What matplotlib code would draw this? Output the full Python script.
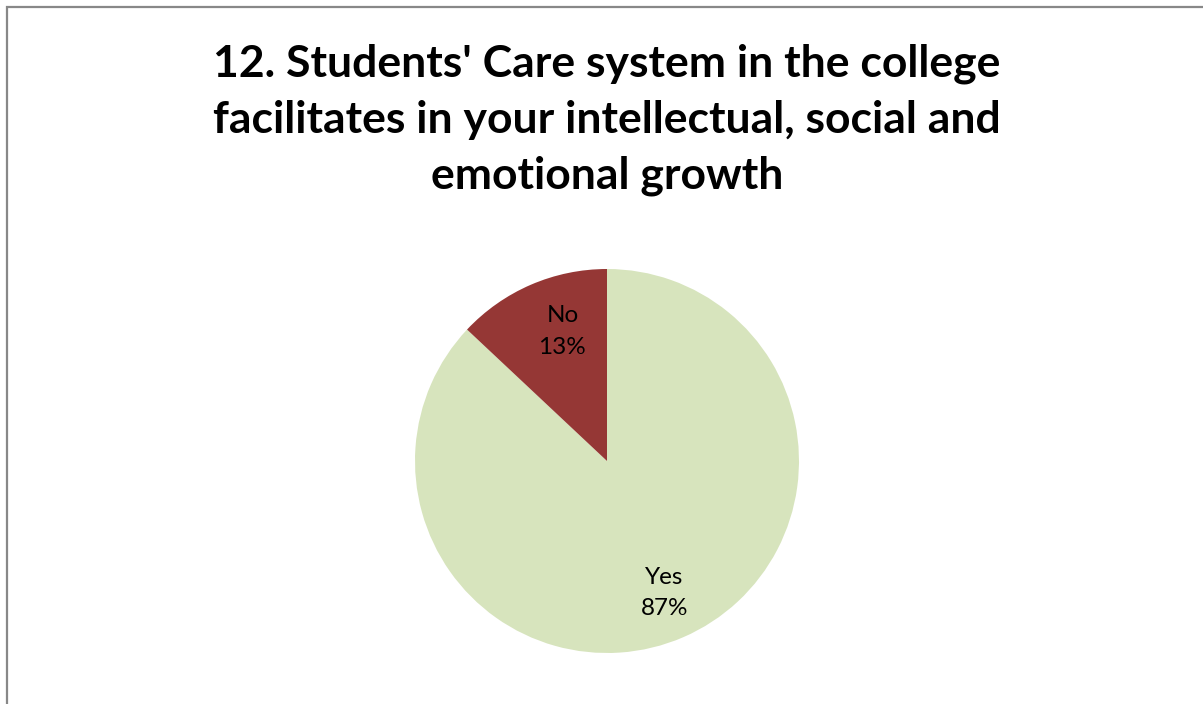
import matplotlib.pyplot as plt
from matplotlib.patches import Rectangle

categories = ["Yes", "No"]
percents = [87, 13]
colors = ["#d7e4bd", "#953735"]
title = "12. Students' Care system in the college\nfacilitates in your intellectual, social and\nemotional growth"

plt.rcParams['font.family'] = ['Lato', 'DejaVu Sans']

W, H = 1203, 704
fig = plt.figure(figsize=(W / 100, H / 100), dpi=100)

# outer chart frame (right and bottom edges fall outside the image)
fig.patches.append(Rectangle((7 / W, 0 - 10 / H), 1.2, 1 - 7.5 / H + 10 / H,
                             transform=fig.transFigure, fill=False,
                             edgecolor="#888888", linewidth=1.6))

fig.text(607 / W, 1 - 120 / H, title, ha="center", va="center",
         fontsize=32, fontweight="bold", linespacing=1.48)

cx, cy, r = 607, 461, 192
ax = fig.add_axes([(cx - r) / W, (H - cy - r) / H, 2 * r / W, 2 * r / H])
labels = [f"{c}\n{p}%" for c, p in zip(categories, percents)]
wedges, texts = ax.pie(percents, colors=colors, startangle=90, counterclock=False,
                       labels=labels, labeldistance=0.75, radius=1,
                       textprops=dict(fontsize=17.5, ha="center", va="center",
                                      linespacing=1.6))
# nudge the small-slice label toward the slice centre, as the original does
x, y = texts[1].get_position()
texts[1].set_position((x * 0.78, y * 0.98))
ax.set_xlim(-1, 1)
ax.set_ylim(-1, 1)
ax.set_aspect("equal")
ax.axis("off")

fig.savefig("out.png", dpi=100)
